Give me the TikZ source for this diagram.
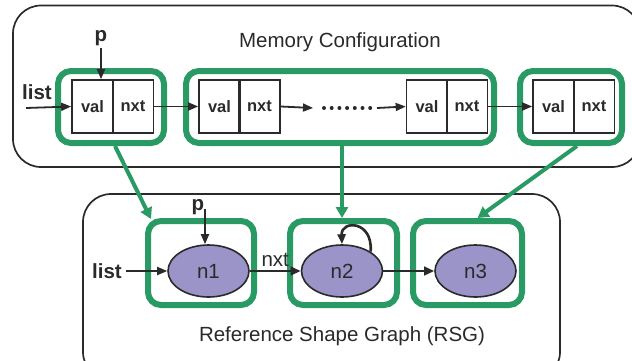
\documentclass[tikz,border=0pt]{standalone}
\usepackage{fontspec}
\setmainfont{Liberation Sans}
\usetikzlibrary{arrows.meta,shapes.geometric,calc}
\definecolor{grn}{HTML}{2A9A64}
\definecolor{purp}{HTML}{9B94C8}
\definecolor{ink}{HTML}{2A2A2A}
\begin{document}
\begin{tikzpicture}[x=1pt,y=-1pt,
  frame/.style={draw=ink, line width=1.7pt, rounded corners=28pt},
  cell/.style={draw=ink, line width=1.7pt, minimum width=41pt, minimum height=53pt, inner sep=0pt, text=ink, font=\bfseries\fontsize{16.5}{19}\selectfont},
  gbox/.style={draw=grn, line width=6pt, rounded corners=13pt, inner sep=0pt},
  blob/.style={ellipse, draw=ink, line width=1.6pt, fill=purp, minimum width=81pt, minimum height=52pt, inner sep=0pt, text=ink, font=\fontsize{20.5}{24}\selectfont},
  lbl/.style={text=ink, font=\fontsize{20.5}{24}\selectfont, inner sep=0pt},
  blbl/.style={text=ink, font=\bfseries\fontsize{20.5}{24}\selectfont, inner sep=0pt},
  arr/.style={draw=ink, line width=1.8pt, -{Triangle[length=10pt,width=8pt]}},
  tarr/.style={draw=ink, line width=2.8pt, -{Triangle[length=10pt,width=8.5pt]}},
  garr/.style={draw=grn, line width=4pt, -{Triangle[length=11pt,width=12pt]}}
]
\useasboundingbox (0,0) rectangle (632,360);
\clip (0,0) rectangle (632,360);
% frames
\draw[frame] (13,5.5) rectangle (640,167);
\draw[frame] (83,194) rectangle (560,380);
\node[lbl] (memtitle) at (340,42) {Memory Configuration};
\node[lbl] (rsgtitle) at (342,336) {Reference Shape Graph (RSG)};
% memory cells
\node[cell] (val1) at (92.5,106.5) {val};
\node[cell] (nxt1) at (133,106.5) {nxt};
\node[cell] (val2) at (219.5,106.5) {val};
\node[cell] (nxt2) at (259.5,106.5) {nxt};
\node[cell] (val3) at (427,106.5) {val};
\node[cell] (nxt3) at (467,106.5) {nxt};
\node[cell] (val4) at (553.5,106.5) {val};
\node[cell] (nxt4) at (594,106.5) {nxt};
% green boxes top
\node[gbox, minimum width=106pt, minimum height=72pt] (gm1) at (111,107) {};
\node[gbox, minimum width=308pt, minimum height=72pt] (gm2) at (340,107) {};
\node[gbox, minimum width=102pt, minimum height=72pt] (gm3) at (571,107) {};
% top labels and arrows
\node[blbl] (list1) at (37,92) {list};
\coordinate (lst1) at (26,108);
\draw[arr] (lst1) -- (val1.west);
\node[blbl] (p1) at (101,38) {p};
\coordinate (pt1) at (101,48);
\draw[arr] (pt1) -- (pt1 |- val1.north);
\draw[arr] (nxt1.east) -- (val2.west);
\coordinate (d1) at (313,108);
\draw[arr] (nxt2.east) -- (d1);
\foreach \i in {0,...,6} \fill[ink] (324+7.7*\i,108) circle (2pt);
\coordinate (d2) at (377,108);
\draw[arr] (d2) -- (val3.west);
\draw[arr] (nxt3.east) -- (val4.west);
% RSG
\node[blob] (n1) at (208.5,271) {n1};
\node[blob] (n2) at (342,271) {n2};
\node[blob] (n3) at (475.5,271) {n3};
\node[gbox, minimum width=106pt, minimum height=84pt] (gn1) at (201,263) {};
\node[gbox, minimum width=107pt, minimum height=84pt] (gn2) at (343.5,263) {};
\node[gbox, minimum width=109pt, minimum height=84pt] (gn3) at (467.5,263) {};
\node[blbl] (list2) at (107,271) {list};
\draw[arr] (list2.east) ++(4,0) coordinate (lst2) (lst2) -- (n1.west);
\node[blbl] (p2) at (198,207) {p};
\coordinate (pt2) at (205,209);
\draw[arr] (pt2) -- (pt2 |- n1.north);
\draw[tarr] (n1.east) -- node[lbl, above=3pt] (nxtl) {nxt} (n2.west);
\draw[tarr] (n2.east) -- (n3.west);
\draw[arr, line width=2.6pt] (n2.34) .. controls (373,220) and (341,220) .. (n2.north);
% green mapping arrows
\draw[garr] ($(gm1.south)+(4,0)$) -- ($(gn1.north west)+(6,1)$);
\draw[garr] (gm2.south -| 342,0) -- (342,218);
\draw[garr] ($(gm3.south)+(6,0)$) -- ($(gn3.north)+(10,0)$);
\end{tikzpicture}
\end{document}
